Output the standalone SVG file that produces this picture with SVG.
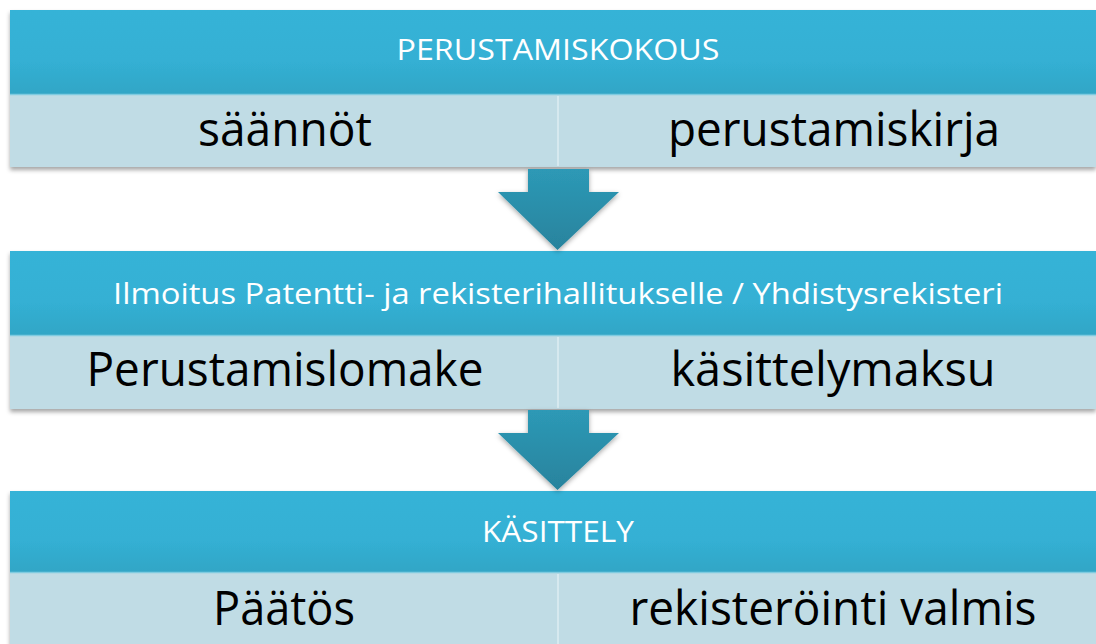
<svg xmlns="http://www.w3.org/2000/svg" width="1096" height="644" viewBox="0 0 1096 644">
<defs>
<linearGradient id="hdr" x1="0" y1="0" x2="0" y2="1">
<stop offset="0" stop-color="#36B3D7"/>
<stop offset="0.6" stop-color="#34B0D4"/>
<stop offset="1" stop-color="#31A6C6"/>
</linearGradient>
<linearGradient id="arr" x1="0" y1="0" x2="0" y2="1">
<stop offset="0" stop-color="#2D99B6"/>
<stop offset="1" stop-color="#28839D"/>
</linearGradient>
<filter id="sh" x="-5%" y="-10%" width="110%" height="130%">
<feDropShadow dx="0" dy="3" stdDeviation="2" flood-color="#000" flood-opacity="0.35"/>
</filter>
<filter id="ash" x="-20%" y="-20%" width="140%" height="140%">
<feDropShadow dx="0" dy="2" stdDeviation="2.5" flood-color="#000" flood-opacity="0.35"/>
</filter>
</defs>
<style>
.hdr{fill:url(#hdr)}
.band{fill:#C0DCE5}
.hl{stroke:#7FCBE0;stroke-width:1.5}
.div{stroke:#D6E9EF;stroke-width:2}
.ht{font-family:"Open Sans","Liberation Sans",sans-serif;font-size:30px;fill:#FFFFFF;text-anchor:middle}
.bt{font-family:"Open Sans","Liberation Sans",sans-serif;font-size:47px;fill:#000000;text-anchor:middle}
.arrow{fill:url(#arr)}
</style>
<rect width="1096" height="644" fill="#FFFFFF"/>

<g id="block1">
<g filter="url(#sh)">
<rect x="10" y="10" width="1086" height="157" class="band"/>
<rect x="10" y="10" width="1086" height="84" class="hdr"/>
</g>
<line x1="10" y1="94.5" x2="1096" y2="94.5" class="hl"/>
<line x1="558" y1="96" x2="558" y2="166" class="div"/>
<text x="558" y="60" class="ht" textLength="323" lengthAdjust="spacingAndGlyphs">PERUSTAMISKOKOUS</text>
<text x="285" y="146" class="bt" textLength="174" lengthAdjust="spacingAndGlyphs">säännöt</text>
<text x="834" y="146" class="bt" textLength="332" lengthAdjust="spacingAndGlyphs">perustamiskirja</text>
</g>

<g id="block2">
<g filter="url(#sh)">
<rect x="10" y="251" width="1086" height="158" class="band"/>
<rect x="10" y="251" width="1086" height="84" class="hdr"/>
</g>
<line x1="10" y1="335.5" x2="1096" y2="335.5" class="hl"/>
<line x1="558" y1="337" x2="558" y2="408" class="div"/>
<text x="558" y="304" class="ht" textLength="890" lengthAdjust="spacingAndGlyphs">Ilmoitus Patentti- ja rekisterihallitukselle / Yhdistysrekisteri</text>
<text x="285" y="386" class="bt" textLength="397" lengthAdjust="spacingAndGlyphs">Perustamislomake</text>
<text x="833" y="386" class="bt" textLength="325" lengthAdjust="spacingAndGlyphs">käsittelymaksu</text>
</g>

<g id="block3">
<g filter="url(#sh)">
<rect x="10" y="491" width="1086" height="160" class="band"/>
<rect x="10" y="491" width="1086" height="81" class="hdr"/>
</g>
<line x1="10" y1="572.5" x2="1096" y2="572.5" class="hl"/>
<line x1="558" y1="574" x2="558" y2="644" class="div"/>
<text x="558" y="542" class="ht" textLength="152" lengthAdjust="spacingAndGlyphs">KÄSITTELY</text>
<text x="284" y="625" class="bt" textLength="142" lengthAdjust="spacingAndGlyphs">Päätös</text>
<text x="833" y="625" class="bt" textLength="407" lengthAdjust="spacingAndGlyphs">rekisteröinti valmis</text>
</g>

<g id="connectors">
<path class="arrow" filter="url(#ash)" d="M528,169 L589,169 L589,192 L619,192 L557.5,250 L498,192 L528,192 Z"/>
<path class="arrow" filter="url(#ash)" d="M528,410 L589,410 L589,433 L619,433 L557.5,490 L498,433 L528,433 Z"/>
</g>
</svg>
